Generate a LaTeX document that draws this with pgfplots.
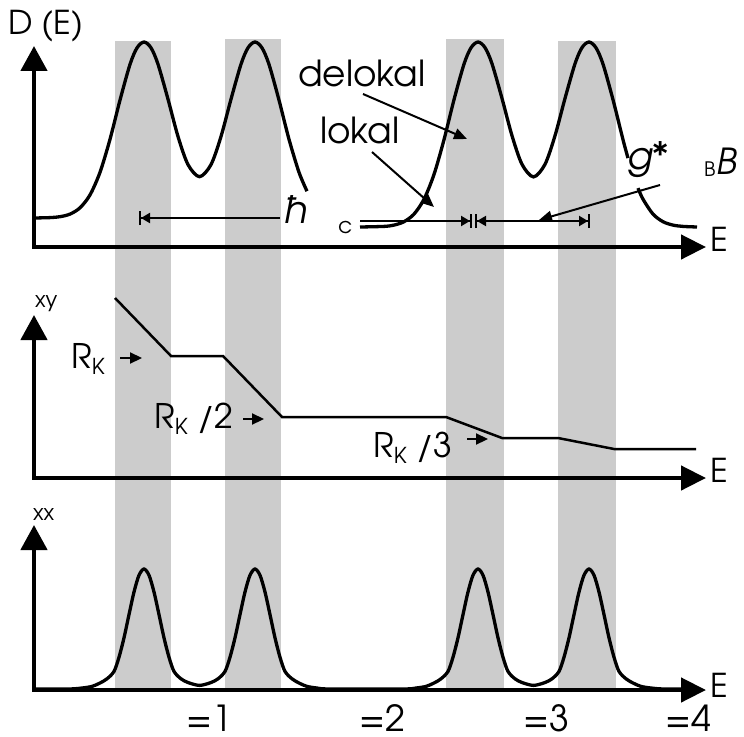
\documentclass[border=0pt]{standalone}
\usepackage{fontspec}
\setmainfont{texgyreadventor}[Extension=.otf, UprightFont=*-regular, ItalicFont=*-italic, BoldFont=*-bold, BoldItalicFont=*-bolditalic]
\usepackage{pgfplots}
\pgfplotsset{compat=1.18}
\usetikzlibrary{arrows.meta}
\definecolor{bandgray}{RGB}{204,204,204}
\newcommand{\fs}[1]{\fontsize{#1}{#1}\selectfont}
\begin{document}
\begin{tikzpicture}
\begin{axis}[scale only axis, width=744bp, height=737bp,
  xmin=0, xmax=744, ymin=0, ymax=737, y dir=reverse,
  hide axis, clip=false]
\path (axis cs:0,0) rectangle (axis cs:744,737);
% gray bands
\addplot[fill=bandgray, draw=none] coordinates {(115,41) (171,41) (171,690) (115,690)} -- cycle;
\addplot[fill=bandgray, draw=none] coordinates {(225,39) (281,39) (281,690) (225,690)} -- cycle;
\addplot[fill=bandgray, draw=none] coordinates {(446,39) (504,39) (504,690) (446,690)} -- cycle;
\addplot[fill=bandgray, draw=none] coordinates {(558,41) (616,41) (616,690) (558,690)} -- cycle;
% top: density of states
\addplot[line width=3.3bp, smooth, mark=none] coordinates {
(34,218) (50,217.6) (60,216.7) (70,214.1) (80,207.8) (90,194.9) (100,172.3) (110,139.3)
(120,100.1) (130,64.4) (137,47.9) (144,42) (151,47.8) (158,64.2) (168,99.2) (178,136.5)
(188,164.6) (199.5,176.7) (211,164.6) (221,136.5) (231,99.2) (241,64.2) (248,47.8) (255,42)
(262,47.9) (269,64.4) (279,100.1) (289,139.3) (299,172.3) (307,191.2)};
\addplot[line width=3.3bp, smooth, mark=none] coordinates {
(360,227) (384,226.4) (394,225.1) (404,221.7) (414,214.1) (424,199.2) (434,174.4) (444,139.7)
(454,99.7) (464,64.1) (471,47.8) (478,42) (485,47.6) (492,63.7) (502,98.4) (512,135.7)
(522,164.3) (533.5,176.9) (545,164.3) (555,135.7) (565,98.4) (575,63.7) (582,47.6) (589,42)
(596,47.8) (603,64.1) (613,99.7) (623,139.7) (628,158.1)};
\addplot[line width=3.3bp, smooth, mark=none] coordinates {
(638,188.1) (643,199.2) (653,214.1) (663,221.7) (673,225.1) (683,226.4) (697,227)};
% middle: Hall resistance
\addplot[line width=2.5bp, mark=none] coordinates {
(115,298) (171,356) (223,356) (282,417) (446,417) (502,438) (558,438) (614,449) (696,449)};
% bottom: longitudinal resistance
\addplot[line width=3.3bp, smooth, mark=none] coordinates {
(34,689) (69,689) (82,688) (92,686.4) (100,683) (107,678.8) (114,671.4) (119,657.2)
(124,637.8) (129,614.6) (134,592) (139,575.2) (144,569) (149,575.2) (154,592) (159,614.6)
(164,637.8) (169,657.2) (174,671.4) (181,678.8) (188,682.5) (199.5,685.4) (211,682.5)
(218,678.8) (225,671.4) (230,657.2) (235,637.8) (240,614.6) (245,592) (250,575.2) (255,569)
(260,575.2) (265,592) (270,614.6) (275,637.8) (280,657.2) (285,671.4) (292,678.8) (299,683)
(307,686.4) (317,688) (330,689) (403,689) (416,688) (426,686.4) (434,683) (441,678.8)
(448,671.4) (453,657.2) (458,637.8) (463,614.6) (468,592) (473,575.2) (478,569) (483,575.2)
(488,592) (493,614.6) (498,637.8) (503,657.2) (508,671.4) (515,678.8) (522,682.5)
(533.5,685.4) (545,682.5) (552,678.8) (559,671.4) (564,657.2) (569,637.8) (574,614.6)
(579,592) (584,575.2) (589,569) (594,575.2) (599,592) (604,614.6) (609,637.8) (614,657.2)
(619,671.4) (626,678.8) (633,683) (641,686.4) (651,688) (664,689) (697,689)};
% axes
\draw[line width=4.5bp, line join=miter, {Triangle[length=25bp,width=26bp]}-{Triangle[length=25bp,width=24bp]}]
  (axis cs:34,46) -- (axis cs:34,247) -- (axis cs:706,247);
\draw[line width=4.5bp, line join=miter, {Triangle[length=25bp,width=26bp]}-{Triangle[length=25bp,width=24bp]}]
  (axis cs:34,315) -- (axis cs:34,478) -- (axis cs:706,478);
\draw[line width=4.5bp, line join=miter, {Triangle[length=25bp,width=26bp]}-{Triangle[length=25bp,width=24bp]}]
  (axis cs:34,525) -- (axis cs:34,690) -- (axis cs:706,690);
% annotation arrows (top)
\draw[line width=2bp, {Bar[width=14bp]Triangle[length=9bp,width=10bp,sep=0pt]}-]
  (axis cs:139,218) -- (axis cs:280,218);
\draw[line width=2bp, -{Triangle[length=9bp,width=10bp,sep=0pt]Bar[width=14bp]}]
  (axis cs:360,221) -- (axis cs:472,221);
\draw[line width=2bp, {Bar[width=14bp]Triangle[length=9bp,width=10bp,sep=0pt]}-{Triangle[length=9bp,width=10bp,sep=0pt]Bar[width=14bp]}]
  (axis cs:475,221) -- (axis cs:590,221);
\draw[line width=2bp, -{Triangle[length=13bp,width=11bp]}] (axis cs:363,94) -- (axis cs:467,139);
\draw[line width=2bp, -{Triangle[length=13bp,width=11bp]}] (axis cs:372,152) -- (axis cs:434,207);
\draw[line width=2bp, -{Triangle[length=13bp,width=11bp]}] (axis cs:660,185) -- (axis cs:539,220);
% middle arrows
\draw[line width=2.2bp, -{Triangle[length=12bp,width=11bp]}] (axis cs:120,358) -- (axis cs:142,358);
\draw[line width=2.2bp, -{Triangle[length=12bp,width=11bp]}] (axis cs:243,419) -- (axis cs:264,419);
\draw[line width=2.2bp, -{Triangle[length=12bp,width=11bp]}] (axis cs:467,439) -- (axis cs:488,439);
% texts
\node[anchor=base west, inner sep=0pt, font=\fs{33}] at (axis cs:8,35) {D (E)};
\node[anchor=base west, inner sep=0pt, font=\fs{36}] at (axis cs:298,87) {delokal};
\node[anchor=base west, inner sep=0pt, font=\fs{36}] at (axis cs:320,144) {lokal};
\node[anchor=base west, inner sep=0pt, font=\fs{38}\itshape] at (axis cs:284,223) {ħ};
\node[anchor=base west, inner sep=0pt, font=\fs{22}] at (axis cs:338,233) {c};
\node[anchor=base west, inner sep=0pt, font=\fs{38}\itshape] at (axis cs:627,170) {g*};
\node[anchor=base west, inner sep=0pt, font=\fs{20}] at (axis cs:704,177) {B};
\node[anchor=base west, inner sep=0pt, font=\fs{36}\itshape] at (axis cs:716,175) {B};
\node[anchor=base west, inner sep=0pt, font=\fs{33}] at (axis cs:710,251) {E};
\node[anchor=base west, inner sep=0pt, font=\fs{33}] at (axis cs:710,482) {E};
\node[anchor=base west, inner sep=0pt, font=\fs{33}] at (axis cs:710,697) {E};
\node[anchor=base west, inner sep=0pt, font=\fs{22}] at (axis cs:35,307) {xy};
\node[anchor=base west, inner sep=0pt, font=\fs{22}] at (axis cs:33,520) {xx};
\node[anchor=base west, inner sep=0pt, font=\fs{34}] at (axis cs:71,368) {R\raisebox{-6bp}{\fs{22}K}};
\node[anchor=base west, inner sep=0pt, font=\fs{34}] at (axis cs:154,428) {R\raisebox{-6bp}{\fs{22}K} /2};
\node[anchor=base west, inner sep=0pt, font=\fs{34}] at (axis cs:373,457) {R\raisebox{-6bp}{\fs{22}K} /3};
\node[anchor=base west, inner sep=0pt, font=\fs{36}] at (axis cs:186,731) {=1};
\node[anchor=base west, inner sep=0pt, font=\fs{36}] at (axis cs:359,731) {=2};
\node[anchor=base west, inner sep=0pt, font=\fs{36}] at (axis cs:523,731) {=3};
\node[anchor=base west, inner sep=0pt, font=\fs{36}] at (axis cs:665,731) {=4};
\end{axis}
\end{tikzpicture}
\end{document}
